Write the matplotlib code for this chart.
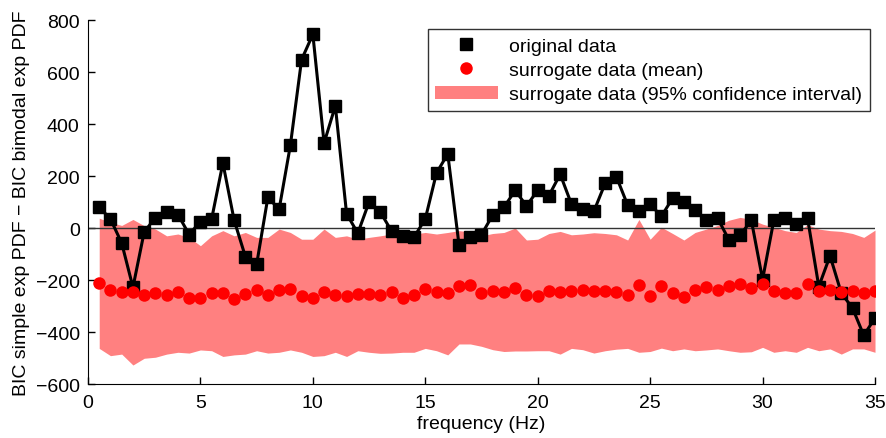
import numpy as np
import matplotlib.pyplot as plt

plt.rcParams['font.family'] = ['Liberation Sans', 'DejaVu Sans']

# frequency bins, 0.5 Hz steps
freq = np.arange(1, 71) * 0.5

# BIC difference for the recorded data
original = [80, 35, -58, -228, -15, 40, 60, 52, -25, 25,
            35, 250, 30, -110, -140, 118, 72, 318, 648, 745,
            327, 470, 55, -20, 100, 62, -12, -30, -35, 35,
            212, 285, -65, -35, -25, 50, 80, 145, 85, 145,
            125, 207, 92, 72, 65, 172, 197, 88, 65, 92,
            45, 115, 100, 68, 30, 38, -45, -28, 30, -198,
            30, 40, 15, 38, -225, -107, -250, -308, -413, -346]

# mean over surrogates
surr_mean = [-212, -238, -246, -245, -258, -250, -258, -246, -268, -270,
             -250, -250, -273, -254, -238, -258, -238, -235, -260, -270,
             -245, -258, -262, -254, -254, -258, -246, -270, -258, -235,
             -246, -250, -222, -220, -250, -242, -246, -231, -258, -262,
             -242, -246, -242, -240, -242, -244, -246, -258, -219, -261,
             -223, -250, -265, -238, -227, -238, -223, -215, -231, -215,
             -242, -250, -250, -215, -242, -238, -246, -242, -250, -244]

# 95% interval of the surrogates
surr_hi = [38, 22, 10, 33, 9, -4, -30, -23, -36, -68,
           -30, -10, -30, -17, -36, -36, -4, -17, -43, -43,
           -4, -36, -30, -43, -36, -30, -23, -36, -23, -17,
           -23, -17, -10, -15, -30, -21, -17, 0, -46, -43,
           -21, -13, -26, -23, -18, -21, -26, -46, 33, -43,
           3, -21, -46, -17, -4, 10, 30, 41, 33, 15,
           3, -10, -17, 13, -4, -10, -13, -21, -36, -8]
surr_lo = [-463, -491, -485, -527, -501, -497, -485, -478, -481, -469,
           -472, -494, -488, -485, -472, -481, -478, -469, -478, -494,
           -491, -478, -494, -472, -478, -482, -481, -478, -478, -463,
           -472, -488, -446, -446, -455, -468, -475, -473, -473, -472,
           -472, -485, -463, -468, -481, -472, -466, -463, -478, -475,
           -462, -472, -465, -472, -469, -465, -472, -478, -476, -459,
           -478, -472, -478, -459, -472, -465, -485, -465, -465, -478]

fig = plt.figure(figsize=(8.86, 4.39), dpi=100)
ax = fig.add_axes([0.0993, 0.123, 0.8883, 0.829])

ax.fill_between(freq, surr_lo, surr_hi, color='#ff8080', linewidth=0,
                label='surrogate data (95% confidence interval)')
ax.axhline(0, color='#333333', linewidth=1)
ax.plot(freq, original, color='black', linewidth=2.2)
ax.plot(freq, original, 's', color='black', markersize=8, label='original data')
ax.plot(freq, surr_mean, 'o', color='#ff0000', markersize=9,
        markeredgewidth=0, label='surrogate data (mean)')

ax.set_xlim(0, 35)
ax.set_ylim(-600, 800)
ax.set_xticks(np.arange(0, 36, 5))
ax.set_yticks(np.arange(-600, 801, 200))
ax.tick_params(direction='in', labelsize=14, length=5, width=1)
ax.tick_params(axis='x', pad=7)
ax.tick_params(axis='y', pad=6)
ax.spines['top'].set_visible(False)
ax.spines['right'].set_visible(False)
ax.set_xlabel('frequency (Hz)', fontsize=14, labelpad=3)
ax.set_ylabel('BIC simple exp PDF \u2212 BIC bimodal exp PDF', fontsize=14, labelpad=4)

handles, labels = ax.get_legend_handles_labels()
order = [1, 2, 0]
leg = ax.legend([handles[i] for i in order], [labels[i] for i in order],
                loc='upper right', bbox_to_anchor=(0.9936, 0.975), fontsize=14,
                frameon=True, fancybox=False, edgecolor='black',
                handlelength=3.2, handletextpad=0.6, borderpad=0.4,
                labelspacing=0.35, borderaxespad=0)
leg.get_frame().set_linewidth(1)

fig.savefig('out.png', dpi=100)
